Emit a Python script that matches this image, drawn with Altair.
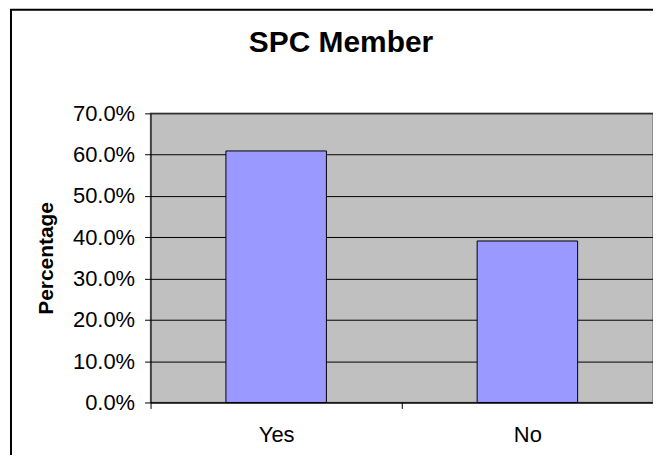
import altair as alt
import pandas as pd

categories = ["Yes", "No"]
percentages = [0.609, 0.391]
y_ticks = [0.0, 0.1, 0.2, 0.3, 0.4, 0.5, 0.6, 0.7]
title_text = ["SPC Member"]
y_title = "Percentage"

df = pd.DataFrame({"answer": categories, "pct": percentages})
FONT = "Liberation Sans"

bars = alt.Chart(df).mark_bar(
    color="#9999FF", stroke="black", strokeWidth=1,
    width=alt.RelativeBandSize(0.4)
).encode(
    x=alt.X("answer:N", sort=categories,
            scale=alt.Scale(paddingInner=0, paddingOuter=0),
            axis=alt.Axis(title=None, labelAngle=0, tickBand="extent", ticks=True,
                          tickSize=6, tickColor="black", domainColor="black",
                          labelFontSize=22, labelFont=FONT, labelColor="black",
                          labelPadding=16, grid=False)),
    y=alt.Y("pct:Q", scale=alt.Scale(domain=[0, 0.7], nice=False),
            axis=alt.Axis(values=y_ticks, format=".1%", title=y_title,
                          titleFont=FONT, titleFontSize=21, titleFontWeight="bold",
                          titleColor="black", titleX=-104, titleY=145,
                          titleBaseline="middle", titleAngle=270, titleAlign="center",
                          labelFontSize=22, labelFont=FONT, labelColor="black",
                          tickSize=6, labelPadding=10, grid=True,
                          gridColor="black", gridOpacity=1, gridWidth=1,
                          domainColor="black", tickColor="black")),
)

title = alt.Chart(pd.DataFrame({"t": title_text})).mark_text(
    font=FONT, fontSize=30, fontWeight="bold", color="black",
    align="center", baseline="middle"
).encode(text="t:N", x=alt.value(191), y=alt.value(-71))

frame = alt.Chart(pd.DataFrame({"f": [0]})).mark_rect(
    fill="white", fillOpacity=0, stroke="black", strokeWidth=2
).encode(x=alt.value(-140), x2=alt.value(700), y=alt.value(-104), y2=alt.value(500))

chart = alt.layer(frame, bars, title).properties(
    width=504, height=290,
    autosize=alt.AutoSizeParams(type="none"),
    padding={"left": 143, "top": 105, "right": 0, "bottom": 52},
    background="white",
).configure_view(fill="#C0C0C0", stroke="#808080", strokeWidth=1.5)

chart.save("out.html", embed_options={"renderer": "svg", "actions": False})
